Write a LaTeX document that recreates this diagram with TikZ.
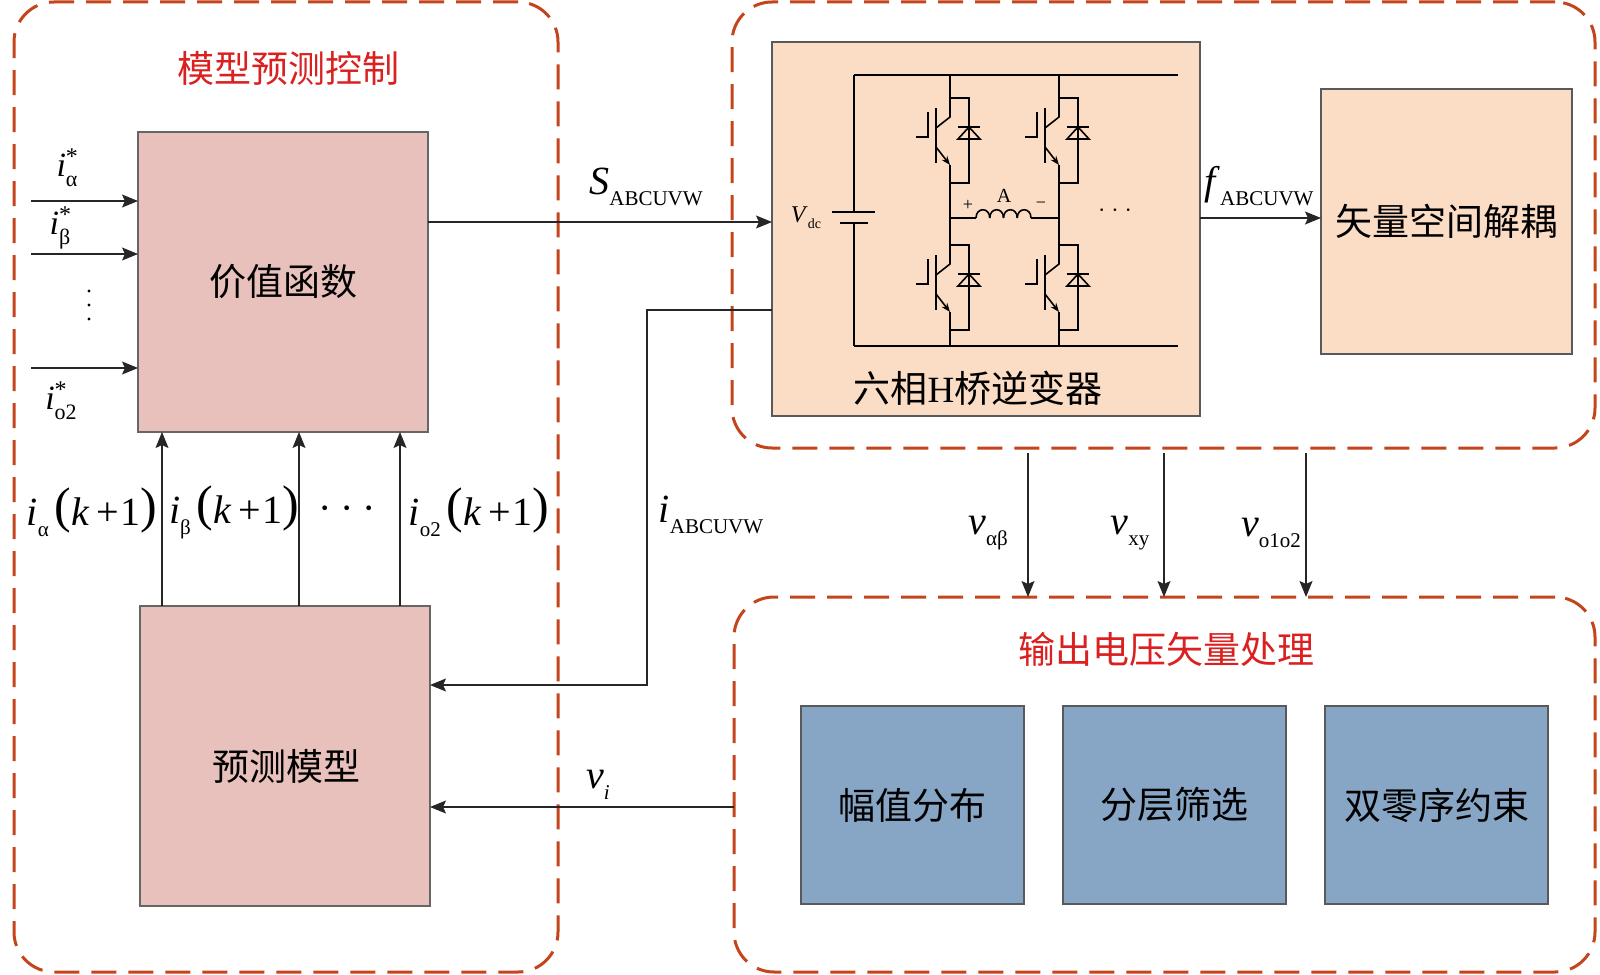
\documentclass[tikz,border=0pt]{standalone}
\usepackage{fontspec}
\setmainfont{Liberation Serif}
\newfontfamily\cjk{Noto Sans CJK SC}
\usetikzlibrary{arrows.meta}
\definecolor{dashred}{RGB}{196,68,28}
\definecolor{titlered}{RGB}{218,32,32}
\definecolor{pinkfill}{RGB}{232,193,188}
\definecolor{peachfill}{RGB}{251,220,196}
\definecolor{bluefill}{RGB}{135,165,196}
\newcommand{\lsz}{\fontsize{20}{20}\selectfont}
\newcommand{\sbx}[1]{\raisebox{-0.28em}{\fontsize{10.5}{10.5}\selectfont #1}}
\newcommand{\bigpar}[1]{{\fontsize{25}{25}\selectfont\raisebox{1.5pt}{#1}}}
\newcommand{\istar}[1]{\fontsize{17}{17}\selectfont\textit{i}\rlap{\raisebox{0.36em}{\fontsize{12}{12}\selectfont *}}\raisebox{-0.3em}{\fontsize{11}{11}\selectfont #1}}
\newcommand{\ik}[1]{\lsz\textit{i}\sbx{#1}\hspace{3pt}\bigpar{(}\textit{k}\hspace{3.5pt}+\hspace{0.5pt}1\bigpar{)}}
\newcommand{\igbtcell}[2]{%
  \begin{scope}[shift={(#1,#2)}]
    \draw[ckt] (0,0) -- (19,0) -- (19,85) -- (0,85);
    \draw[ckt] (0,0) -- (0,19) -- (-14,30);
    \draw[ckt] (-14,10) -- (-14,65);
    \draw[ckt,-{Stealth[length=4.5pt,width=3.4pt]}] (-14,49) -- (0,67);
    \draw[ckt] (0,67) -- (0,85);
    \draw[ckt] (-34,39) -- (-22,39) -- (-22,14);
    \draw[ckt] (8,29) -- (30,29);
    \draw[ckt] (19,29) -- (8,41) -- (30,41) -- cycle;
  \end{scope}}
\begin{document}
\begin{tikzpicture}[x=0.5pt,y=-0.5pt,
  region/.style={draw=dashred, line width=1.5pt, dash pattern=on 12.5pt off 6pt,
    rounded corners=20pt, inner sep=0pt, outer sep=0pt},
  cjkfont/.style={font=\cjk\fontsize{18.5}{18.5}\selectfont},
  pinkbox/.style={draw=black!60, line width=0.6pt, fill=pinkfill, inner sep=0pt,
    outer sep=0pt, minimum width=145pt, minimum height=150pt, cjkfont},
  peachbox/.style={draw=black!65, line width=0.6pt, fill=peachfill, inner sep=0pt, outer sep=0pt},
  bluebox/.style={draw=black!65, line width=0.6pt, fill=bluefill, inner sep=0pt,
    outer sep=0pt, minimum width=111.5pt, minimum height=99pt, cjkfont},
  title/.style={text=titlered, cjkfont},
  lab/.style={inner sep=0pt, font=\lsz},
  arr/.style={draw=black!85, line width=0.6pt, -{Stealth[length=8pt,width=6.5pt,inset=1.5pt]}},
  ckt/.style={draw=black, line width=0.8pt},
]
\fill[white] (0,0) rectangle (1600,974);
\useasboundingbox (0,0) rectangle (1600,974);

% dashed regions
\node[region, minimum width=272pt, minimum height=485pt] (mpc) at (286,487) {};
\node[region, minimum width=431.5pt, minimum height=223pt] (invreg) at (1163.5,225) {};
\node[region, minimum width=430.5pt, minimum height=187.5pt] (outreg) at (1164.5,784.5) {};

% titles
\node[title] (t1) at (288,68) {模型预测控制};
\node[title] (t2) at (1166,649) {输出电压矢量处理};

% blocks
\node[pinkbox] (cost) at (283,282) {价值函数};
\node[pinkbox] (pred) at (285,756) {};
\node[cjkfont, inner sep=0pt] (predt) at (286,766) {预测模型};
\node[peachbox, minimum width=214pt, minimum height=187pt] (inv) at (986,229) {};
\node[peachbox, minimum width=125.5pt, minimum height=132.5pt, cjkfont] (dec) at (1446.5,221.5) {矢量空间解耦};
\node[bluebox] (b1) at (912.5,805) {幅值分布};
\node[bluebox] (b2) at (1174.5,805) {分层筛选};
\node[bluebox] (b3) at (1436.5,805) {双零序约束};

% inverter circuit
\draw[ckt] (854,75) -- (1178,75);
\draw[ckt] (854,346) -- (1178,346);
\draw[ckt] (854,75) -- (854,212);
\draw[ckt] (854,223) -- (854,346);
\draw[ckt] (832,212) -- (875,212);
\draw[ckt] (840,223) -- (868,223);
\foreach \lx in {950,1059} {
  \draw[ckt] (\lx,75) -- (\lx,98);
  \draw[ckt] (\lx,183) -- (\lx,245);
  \draw[ckt] (\lx,330) -- (\lx,346);
  \igbtcell{\lx}{98}
  \igbtcell{\lx}{245}
}
\draw[ckt] (950,218) -- (976,218);
\draw[ckt] (1031,218) -- (1059,218);
\foreach \i in {0,1,2,3} {
  \draw[ckt] ({976+13.75*\i},218) .. controls ({976+13.75*\i},207) and ({976+13.75*(\i+1)},207) .. ({976+13.75*(\i+1)},218);
}
\node[inner sep=0pt, font=\fontsize{9}{9}\selectfont] (plus) at (968,205) {+};
\node[inner sep=0pt, font=\fontsize{9}{9}\selectfont] (minus) at (1041,205) {−};
\node[inner sep=0pt, font=\fontsize{10}{10}\selectfont] (lA) at (1004,196) {A};
\node[inner sep=0pt, font=\fontsize{12}{12}\selectfont] (vdc) at (806,218) {\textit{V}\raisebox{-0.25em}{\fontsize{7}{7}\selectfont dc}};
\node[inner sep=0pt, font=\fontsize{11}{11}\selectfont] (cdots1) at (1115,213) {·\hspace{3pt}·\hspace{3pt}·};
\node[cjkfont, inner sep=0pt] (invt) at (978,388) {六相{\fontspec{Liberation Serif}H}桥逆变器};

% input arrows
\foreach \yy/\nm in {201/r1,254/r2,368/r3} {
  \coordinate (\nm) at (31,\yy);
  \draw[arr] (\nm) -- (\nm -| cost.west);
}
\node[inner sep=0pt] (la) at (67,168) {\istar{α}};
\node[inner sep=0pt] (lb) at (60,228) {\istar{β}};
\node[inner sep=0pt] (lo) at (61,401) {\istar{o2}};
\foreach \yy/\nm in {291/v1,305/v2,319/v3} {
  \fill (89,\yy) circle[radius=0.85pt];
}

% up arrows
\foreach \xx/\nm in {162/u1,299/u2,400/u3} {
  \coordinate (\nm) at (\xx,0);
  \draw[arr] (pred.north -| \nm) -- (cost.south -| \nm);
}
\node[lab] (lka) at (92,512) {\ik{α}};
\node[lab] (lkb) at (234,512) {\ik{β}};
\node[lab] (lkd) at (347,514) {·\hspace{4.5pt}·\hspace{4.5pt}·};
\node[lab] (lko) at (479,512) {\ik{o2}};

% S arrow
\coordinate (yS) at (0,222);
\draw[arr] (cost.east |- yS) -- (inv.west |- yS);
\node[lab] (lS) at (646,187) {\textit{S}\sbx{ABCUVW}};

% i_ABCUVW
\coordinate (yI) at (0,310);
\coordinate (xI) at (647,685);
\draw[arr] (inv.west |- yI) -| (xI) -- (pred.east |- xI);
\node[lab] (lI) at (711,515) {\textit{i}\sbx{ABCUVW}};

% v_i
\coordinate (yV) at (0,807);
\draw[arr] (outreg.west |- yV) -- (pred.east |- yV);
\node[lab] (lvi) at (598,785) {\textit{v}\sbx{\textit{i}}};

% f arrow
\coordinate (yF) at (0,218);
\draw[arr] (inv.east |- yF) -- (dec.west |- yF);
\node[lab] (lF) at (1259,186) {\textit{f}\sbx{ABCUVW}};

% down arrows
\foreach \xx/\nm in {1028/d1,1164/d2,1306/d3} {
  \coordinate (\nm) at (\xx,0);
  \draw[arr, shorten <=2.5pt] (invreg.south -| \nm) -- (outreg.north -| \nm);
}
\node[lab] (lvab) at (988,533) {\textit{v}\sbx{αβ}};
\node[lab] (lvxy) at (1130,533) {\textit{v}\sbx{xy}};
\node[lab] (lvo) at (1271,533) {\textit{v}\sbx{o1o2}};
\end{tikzpicture}
\end{document}
